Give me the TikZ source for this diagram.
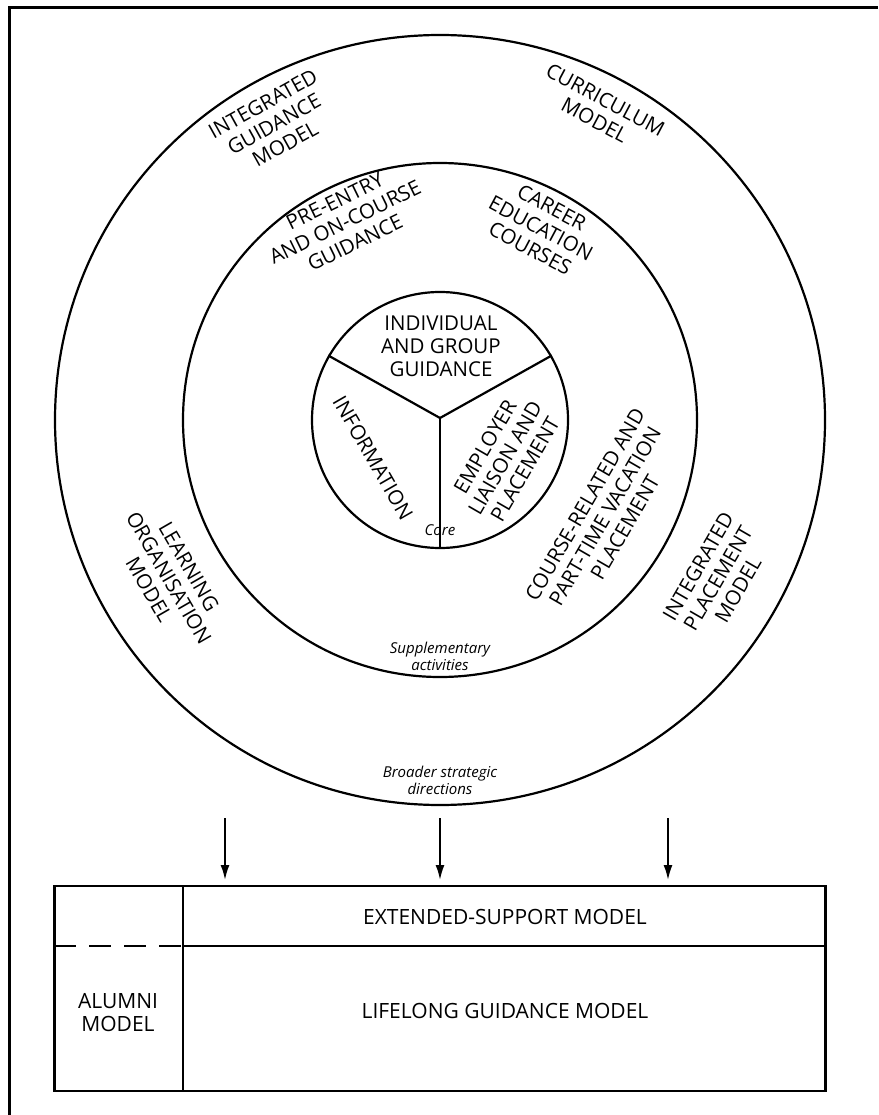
\documentclass[tikz,border=0pt]{standalone}
\usepackage{fontspec}
\setmainfont{Open Sans}
\usetikzlibrary{arrows.meta}
\begin{document}
\begin{tikzpicture}[x=1pt,y=-1pt,
  ring/.style={circle, draw, line width=2.2pt, inner sep=0pt},
  lbl/.style={font=\fontsize{20.5}{23}\selectfont, align=center, inner sep=0pt},
  boxlbl/.style={font=\fontsize{21}{23}\selectfont, align=center, inner sep=0pt},
  note/.style={font=\fontsize{15}{17}\selectfont\itshape, align=center, inner sep=0pt},
  arr/.style={line width=1.8pt, -{Latex[length=15pt,width=9pt]}},
  edge/.style={line width=2.2pt}]
\useasboundingbox (0,0) rectangle (878,1115);
% frame (top and left only)
\draw[line width=3pt] (9,1115) -- (9,8) -- (878,8);
% rings
\node[ring, minimum size=770pt] (outer) at (440,420) {};
\node[ring, minimum size=514pt] (middle) at (440,420) {};
\node[ring, minimum size=256pt] (core) at (440,420) {};
\coordinate (hub) at (440,418);
\draw[edge] (hub) -- (core.150);
\draw[edge] (hub) -- (core.30);
\draw[edge] (hub) -- (core.270);
% outer ring labels
\node[lbl, rotate=29] (igm) at (274,124) {INTEGRATED\\GUIDANCE\\MODEL};
\node[lbl, rotate=-28] (cm) at (600,110) {CURRICULUM\\MODEL};
\node[lbl, rotate=-60] (lom) at (169,578) {LEARNING\\ORGANISATION\\MODEL};
\node[lbl, rotate=60] (ipm) at (718,578) {INTEGRATED\\PLACEMENT\\MODEL};
\node[note] (bsd) at (440,780) {Broader strategic\\directions};
% middle ring labels
\node[lbl, rotate=26] (peg) at (345,222) {PRE-ENTRY\\AND ON-COURSE\\GUIDANCE};
\node[lbl, rotate=-28] (cec) at (541,228) {CAREER\\EDUCATION\\COURSES};
\node[lbl, rotate=60] (crp) at (605,516) {COURSE-RELATED AND\\PART-TIME VACATION\\PLACEMENT};
\node[note] (sa) at (440,656) {Supplementary\\activities};
% core labels
\node[lbl] (iag) at (441,346) {INDIVIDUAL\\AND GROUP\\GUIDANCE};
\node[lbl, rotate=-60] (info) at (373,458) {INFORMATION};
\node[lbl, rotate=60] (elp) at (505,458) {EMPLOYER\\LIAISON AND\\PLACEMENT};
\node[note] (corel) at (440,530) {Core};
% bottom box
\node[draw, line width=2.2pt, minimum width=771pt, minimum height=205pt, inner sep=0pt] (box) at (440,988.5) {};
\coordinate (divtop) at (183,886);
\coordinate (divbot) at (183,1091);
\draw[edge] (divtop) -- (divbot);
\coordinate (hl) at (183,946);
\coordinate (hr) at (826,946);
\coordinate (dl) at (54,946);
\draw[edge] (hl) -- (hr);
\draw[edge, dash pattern=on 22pt off 13pt] (dl) -- (hl);
\node[boxlbl] (esm) at (505,917) {EXTENDED-SUPPORT MODEL};
\node[boxlbl] (lgm) at (505,1011) {LIFELONG GUIDANCE MODEL};
\node[boxlbl] (alm) at (118,1013) {ALUMNI\\MODEL};
% arrows
\coordinate (a1) at (225,818); \coordinate (b1) at (225,880);
\coordinate (a2) at (440,818); \coordinate (b2) at (440,880);
\coordinate (a3) at (668,818); \coordinate (b3) at (668,880);
\draw[arr] (a1) -- (b1);
\draw[arr] (a2) -- (b2);
\draw[arr] (a3) -- (b3);
\end{tikzpicture}
\end{document}
